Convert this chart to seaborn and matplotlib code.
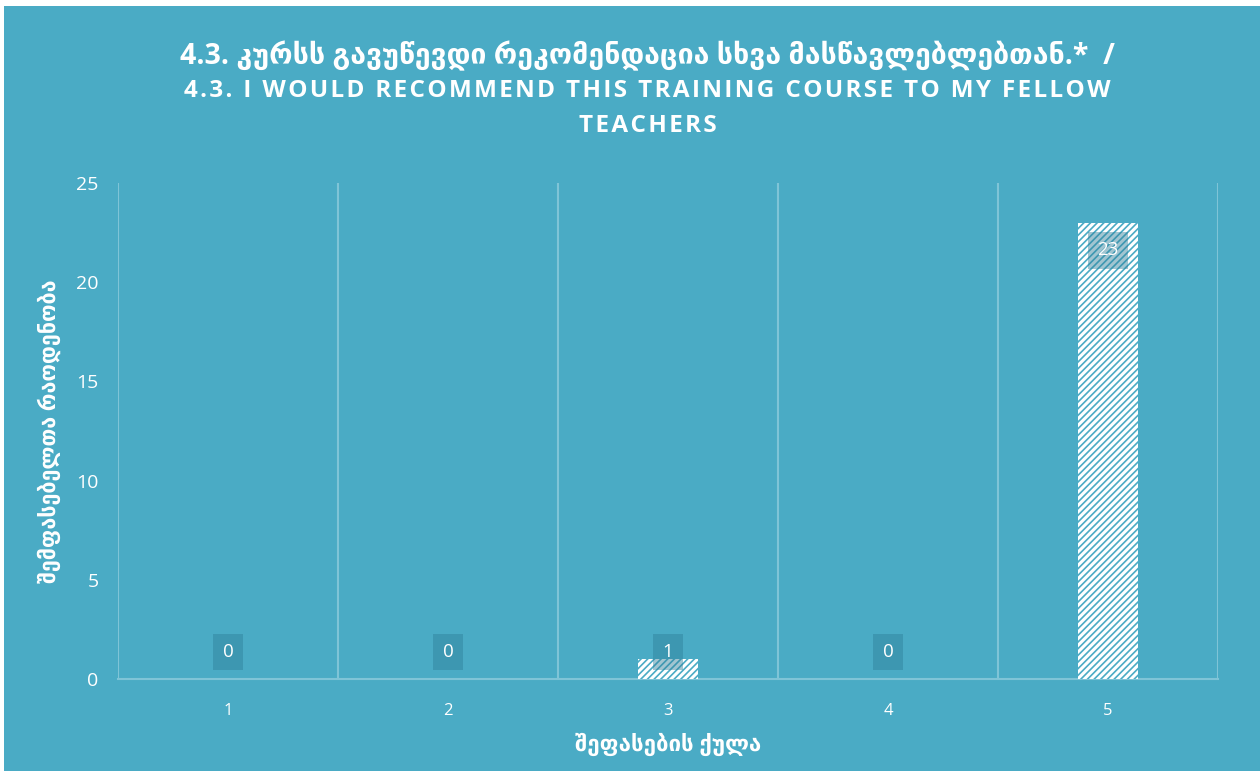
import matplotlib
matplotlib.use("Agg")
import matplotlib.pyplot as plt
import seaborn as sns
import pandas as pd
from matplotlib.patches import Rectangle

# data
scores = ["1", "2", "3", "4", "5"]
counts = [0, 0, 1, 0, 23]

title_ka = "4.3. კურსს გავუწევდი რეკომენდაცია სხვა მასწავლებლებთან.*  /"
title_en_1 = "4.3. I WOULD RECOMMEND THIS TRAINING COURSE TO MY FELLOW"
title_en_2 = "TEACHERS"
xlabel = "შეფასების ქულა"
ylabel = "შემფასებელთა რაოდენობა"

teal = "#4aabc5"
grid_col = "#7fc4d7"
fonts = ["Open Sans", "DejaVu Sans"]


def spaced(s):
    # rough letter spacing for the english title
    return "\u200a".join(s)


df = pd.DataFrame({"score": scores, "count": counts})

sns.set_style("white")
plt.rcParams["font.family"] = fonts
plt.rcParams["hatch.linewidth"] = 1.2

fig = plt.figure(figsize=(12.6, 7.71), dpi=100, facecolor="white")
fig.patches.append(Rectangle((4 / 1260, 0), 1, 765 / 771, transform=fig.transFigure,
                             facecolor=teal, edgecolor="none", zorder=-5))
ax = fig.add_axes([118 / 1260, 92 / 771, 1100 / 1260, 496 / 771])
ax.set_facecolor("none")

sns.barplot(data=df, x="score", y="count", ax=ax, width=0.27,
            color="white", edgecolor=teal, linewidth=0, hatch="/////", zorder=3)

ax.set_xlim(-0.5, 4.5)
ax.set_ylim(0, 25)
ax.set_yticks([0, 5, 10, 15, 20, 25])
ax.set_xticks(range(len(scores)))
ax.set_xticks([i - 0.5 for i in range(len(scores) + 1)], minor=True)
ax.grid(True, which="minor", axis="x", color=grid_col, linewidth=1.5, zorder=1)
ax.grid(False, which="major")
ax.tick_params(axis="both", which="both", length=0)
ax.tick_params(axis="x", labelsize=12, colors="white", pad=17)
ax.tick_params(axis="y", labelsize=14, colors="white", pad=14)

for s in ["top", "right", "left"]:
    ax.spines[s].set_visible(False)
ax.spines["bottom"].set_color(grid_col)
ax.spines["bottom"].set_linewidth(1.5)

ax.set_xlabel(xlabel, color="white", fontsize=16, fontweight="semibold")
ax.set_ylabel(ylabel, color="white", fontsize=15.5, fontweight="semibold")
ax.xaxis.set_label_coords(0.5, -0.108)
ax.yaxis.set_label_coords(-0.052, 0.5)

# data labels
for i, v in enumerate(counts):
    ypos = v - 1.4 if v > 3 else 1.36
    ax.text(i, ypos, str(v), ha="center", va="center", color="white", fontsize=13.5,
            zorder=5,
            bbox=dict(boxstyle="square,pad=0.5", facecolor="#2f7f99", alpha=0.45,
                      edgecolor="none"))

fig.text(0.514, 1 - 56 / 771, title_ka, ha="center", va="center", color="white",
         fontsize=20.5, fontweight="bold")
fig.text(0.514, 1 - 91 / 771, spaced(title_en_1), ha="center", va="center", color="white",
         fontsize=17.5, fontweight="bold")
fig.text(0.514, 1 - 126 / 771, spaced(title_en_2), ha="center", va="center", color="white",
         fontsize=17.5, fontweight="bold")

fig.savefig("out.png", dpi=100, facecolor="white")
